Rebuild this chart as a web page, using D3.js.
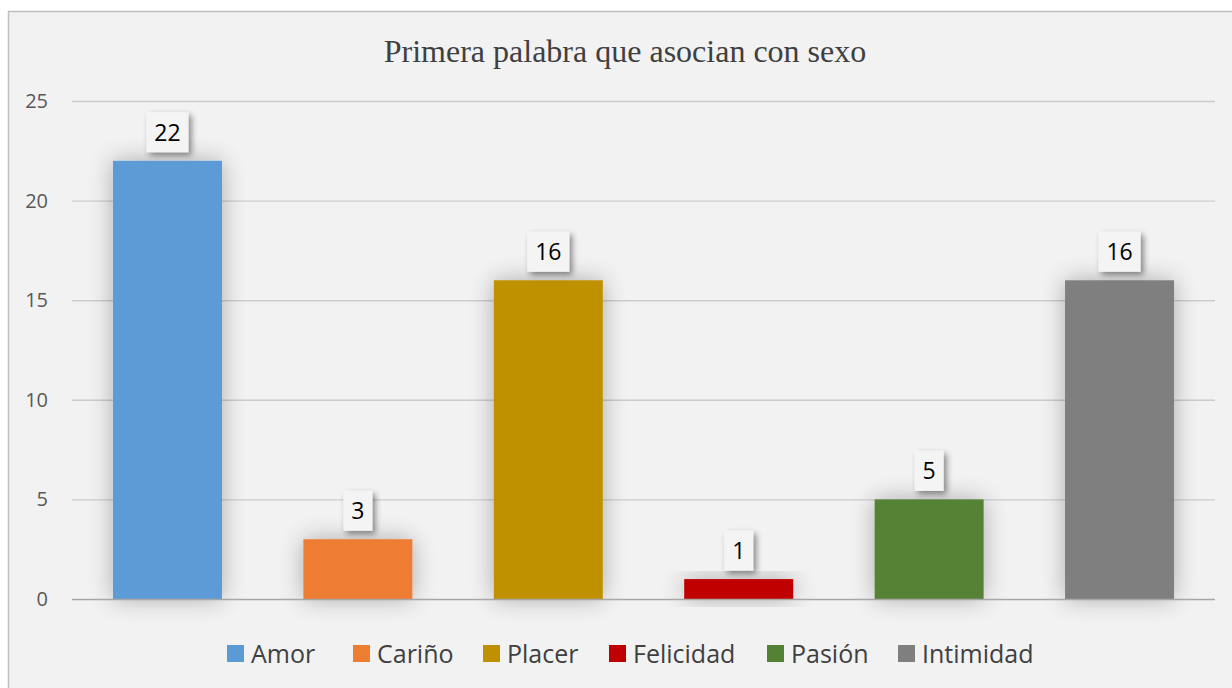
<!DOCTYPE html>
<html>
<head>
<meta charset="utf-8">
<script src="https://d3js.org/d3.v7.min.js"></script>
<style>
  body { margin: 0; background: #ffffff; }
  svg { display: block; }
</style>
</head>
<body>
<svg id="chart"></svg>
<script>
// data
var categories = ["Amor", "Cariño", "Placer", "Felicidad", "Pasión", "Intimidad"]
var values = [22, 3, 16, 1, 5, 16]
var colors = ["#5b9bd5", "#ed7d31", "#bf9000", "#c00000", "#548235", "#7f7f7f"]
var yTicks = [0, 5, 10, 15, 20, 25]
var title = "Primera palabra que asocian con sexo"

var width = 1232
var height = 688
var sans = "'Open Sans', 'Noto Sans', sans-serif"

var svg = d3.select("#chart")
  .attr("width", width)
  .attr("height", height)

var defs = svg.append("defs")

// soft glow round the bars
var glow = defs.append("filter").attr("id", "glow")
  .attr("x", "-40%").attr("y", "-40%").attr("width", "180%").attr("height", "180%")
glow.append("feGaussianBlur").attr("in", "SourceAlpha").attr("stdDeviation", 12).attr("result", "b")
glow.append("feComponentTransfer").attr("in", "b").attr("result", "b2")
  .append("feFuncA").attr("type", "linear").attr("slope", 0.3)
var gm = glow.append("feMerge")
gm.append("feMergeNode").attr("in", "b2")
gm.append("feMergeNode").attr("in", "SourceGraphic")

// drop shadow for the data labels
var shadow = defs.append("filter").attr("id", "shadow")
  .attr("x", "-40%").attr("y", "-40%").attr("width", "180%").attr("height", "180%")
shadow.append("feGaussianBlur").attr("in", "SourceAlpha").attr("stdDeviation", 3).attr("result", "b")
shadow.append("feOffset").attr("in", "b").attr("dx", 3).attr("dy", 3).attr("result", "o")
shadow.append("feComponentTransfer").attr("in", "o").attr("result", "o2")
  .append("feFuncA").attr("type", "linear").attr("slope", 0.45)
var sm = shadow.append("feMerge")
sm.append("feMergeNode").attr("in", "o2")
sm.append("feMergeNode").attr("in", "SourceGraphic")

// chart area
svg.append("rect")
  .attr("x", 8.5).attr("y", 11.5)
  .attr("width", width).attr("height", height)
  .attr("fill", "#f2f2f2")
  .attr("stroke", "#bfbfbf")
  .attr("stroke-width", 1.5)

var margin = { left: 72, right: 1215, top: 101, bottom: 599 }

var x = d3.scaleBand()
  .domain(categories)
  .range([margin.left, margin.right])
  .paddingInner(0.4275)
  .paddingOuter(0.215)

var y = d3.scaleLinear()
  .domain([0, 25])
  .range([margin.bottom, margin.top])

// title
svg.append("text")
  .attr("x", 625)
  .attr("y", 62)
  .attr("text-anchor", "middle")
  .attr("font-family", "'Liberation Serif', 'Times New Roman', serif")
  .attr("font-size", 32)
  .attr("fill", "#404040")
  .text(title)

// gridlines
svg.append("g")
  .selectAll("line")
  .data(yTicks.filter(d => d > 0))
  .enter()
  .append("line")
  .attr("x1", margin.left).attr("x2", margin.right)
  .attr("y1", d => y(d) + 0.5).attr("y2", d => y(d) + 0.5)
  .attr("stroke", "#cccccc")
  .attr("stroke-width", 1.4)

// y axis labels
var yAxis = d3.axisLeft(y).tickValues(yTicks).tickSize(0).tickPadding(0)
var ya = svg.append("g")
  .attr("transform", "translate(48,0)")
  .call(yAxis)
ya.select(".domain").remove()
ya.selectAll("text")
  .attr("font-family", sans)
  .attr("font-size", 20)
  .attr("fill", "#595959")

// bars
svg.append("g")
  .selectAll("rect")
  .data(values)
  .enter()
  .append("rect")
  .attr("x", (d, i) => x(categories[i]))
  .attr("y", d => y(d))
  .attr("width", x.bandwidth())
  .attr("height", d => y(0) - y(d))
  .attr("fill", (d, i) => colors[i])
  .attr("filter", "url(#glow)")

// baseline
svg.append("line")
  .attr("x1", margin.left).attr("x2", margin.right)
  .attr("y1", y(0) + 0.5).attr("y2", y(0) + 0.5)
  .attr("stroke", "#a6a6a6")
  .attr("stroke-width", 1.5)

// data labels
var labels = svg.append("g")
  .selectAll("g")
  .data(values)
  .enter()
  .append("g")
  .attr("transform", (d, i) => "translate(" + (x(categories[i]) + x.bandwidth() / 2) + "," + (y(d) - 28.5) + ")")

labels.append("rect")
  .attr("x", d => d >= 10 ? -21 : -14.5)
  .attr("y", -20)
  .attr("width", d => d >= 10 ? 42 : 29)
  .attr("height", 40)
  .attr("fill", "#f4f4f4")
  .attr("filter", "url(#shadow)")

labels.append("text")
  .attr("text-anchor", "middle")
  .attr("dy", "0.36em")
  .attr("font-family", sans)
  .attr("font-size", 23)
  .attr("fill", "#000000")
  .text(d => d)

// legend
var legendX = [227, 353, 483, 609, 767, 898]
var legend = svg.append("g")
  .selectAll("g")
  .data(categories)
  .enter()
  .append("g")
  .attr("transform", (d, i) => "translate(" + legendX[i] + ",653.5)")

legend.append("rect")
  .attr("x", 0).attr("y", -8.5)
  .attr("width", 17).attr("height", 17)
  .attr("fill", (d, i) => colors[i])

legend.append("text")
  .attr("x", 24)
  .attr("dy", "0.36em")
  .attr("font-family", sans)
  .attr("font-size", 25)
  .attr("fill", "#404040")
  .text(d => d)
</script>
</body>
</html>
